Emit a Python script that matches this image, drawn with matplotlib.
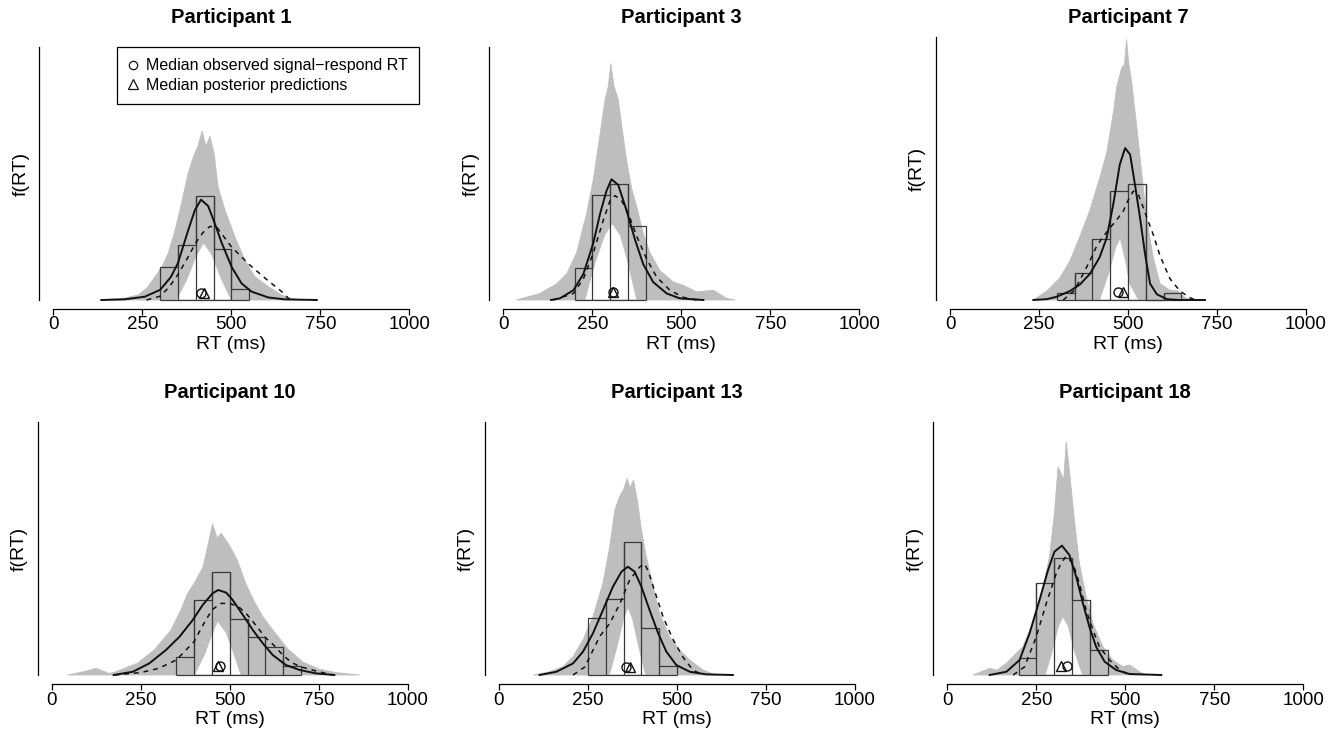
import numpy as np
import matplotlib
matplotlib.use("Agg")
import matplotlib.pyplot as plt
from matplotlib.lines import Line2D

plt.rcParams["font.family"] = ["Liberation Sans", "DejaVu Sans"]

# ---------------------------------------------------------------- data
participants = [1, 3, 7, 10, 13, 18]

# density axis extent (per second) for each participant
fRT_axis_top = [19.9, 15.49, 16.08, 15.46, 15.68, 15.55]

# observed signal-respond RT histograms (50 ms bins, density per second)
hist_left = [300, 200, 300, 350, 250, 200]
hist_heights = [
    [2.63, 4.34, 8.20, 3.99, 0.84],
    [1.94, 6.44, 7.09, 4.54],
    [0.41, 1.67, 3.76, 6.67, 7.08, 0.0, 0.41],
    [1.12, 4.59, 6.28, 3.43, 2.34, 1.69, 0.55],
    [3.52, 4.69, 8.27, 2.94, 0.58],
    [1.03, 5.64, 7.18, 4.62, 1.54],
]

# observed density (solid line)
obs_rt = [
    [135, 200, 257, 300, 330, 350, 379, 398, 415, 435, 450, 473, 501, 529, 557, 604, 650, 740],
    [134, 159, 197, 225, 253, 272, 290, 304, 323, 346, 370, 393, 421, 459, 496, 562],
    [234, 272, 300, 337, 365, 393, 420, 440, 459, 477, 492, 506, 520, 534, 548, 562, 581, 609, 646, 716],
    [174, 228, 274, 321, 359, 396, 424, 452, 468, 490, 508, 537, 565, 593, 621, 658, 696, 742, 794],
    [114, 161, 208, 236, 264, 292, 320, 344, 362, 381, 400, 423, 447, 470, 498, 536, 582, 657],
    [119, 166, 203, 231, 259, 283, 301, 322, 343, 362, 381, 399, 418, 442, 474, 512, 601],
]
obs_density = [
    [0, 0.05, 0.26, 0.8, 1.8, 2.9, 5.5, 7.1, 7.9, 7.4, 6.3, 4.5, 2.6, 1.3, 0.66, 0.2, 0.05, 0],
    [0, 0.1, 0.6, 1.6, 3.5, 5.3, 6.7, 7.4, 7.05, 5.5, 3.7, 2.2, 1.1, 0.4, 0.1, 0],
    [0, 0.05, 0.2, 0.55, 0.95, 1.6, 2.6, 3.8, 5.9, 8.3, 9.3, 8.9, 7.0, 5.0, 2.8, 1.0, 0.35, 0.05, 0, 0],
    [0, 0.2, 0.71, 1.53, 2.34, 3.36, 4.28, 5.0, 5.2, 5.04, 4.6, 3.67, 2.75, 1.94, 1.22, 0.61, 0.31, 0.1, 0],
    [0, 0.2, 0.72, 1.45, 2.59, 4.03, 5.48, 6.41, 6.72, 6.41, 5.48, 4.03, 2.59, 1.45, 0.62, 0.2, 0.04, 0],
    [0, 0.2, 0.92, 2.56, 4.61, 6.46, 7.59, 7.96, 7.38, 6.05, 4.41, 2.97, 1.74, 0.82, 0.31, 0.06, 0],
]

# median posterior predicted density (dashed line)
pred_rt = [
    [262, 300, 325, 350, 375, 400, 420, 440, 460, 500, 550, 600, 640, 665],
    [140, 197, 225, 253, 281, 300, 314, 332, 351, 375, 403, 431, 468, 506, 543],
    [318, 350, 374, 393, 412, 431, 449, 468, 487, 500, 515, 530, 543, 557, 571, 590, 618, 646, 674, 690],
    [176, 250, 300, 350, 400, 425, 450, 475, 500, 525, 550, 575, 600, 625, 650, 675, 700, 750, 790],
    [208, 241, 255, 283, 311, 339, 367, 395, 409, 420, 433, 461, 489, 517, 545, 573],
    [185, 217, 250, 278, 306, 320, 334, 353, 371, 390, 409, 427, 456, 484, 512],
]
pred_density = [
    [0, 0.3, 1.0, 2.0, 3.2, 4.5, 5.3, 5.8, 5.7, 4.2, 2.8, 1.6, 0.7, 0],
    [0, 0.4, 1.3, 2.9, 4.9, 6.1, 6.4, 6.1, 5.3, 3.9, 2.5, 1.4, 0.6, 0.16, 0],
    [0, 0.6, 1.6, 2.4, 3.3, 3.9, 4.4, 4.9, 5.45, 6.1, 6.67, 6.4, 5.65, 4.8, 4.0, 2.7, 1.3, 0.55, 0.14, 0],
    [0, 0.15, 0.4, 0.92, 2.04, 3.06, 3.98, 4.38, 4.38, 4.18, 3.67, 3.0, 2.3, 1.8, 1.2, 0.75, 0.5, 0.2, 0],
    [0, 0.5, 1.13, 2.4, 3.2, 4.4, 5.9, 6.7, 6.9, 6.4, 5.5, 3.6, 2.2, 1.1, 0.3, 0],
    [0, 0.5, 2.36, 4.4, 6.25, 6.9, 7.3, 6.87, 5.64, 4.0, 2.77, 1.74, 0.92, 0.31, 0],
]

# spread of the posterior predictive densities: highest curve ...
band_hi_rt = [
    [131, 200, 239, 265, 286, 305, 323, 342, 360, 379, 395, 405, 418, 429, 440, 452, 463, 482, 510, 538, 566, 604, 641, 669, 700],
    [37, 103, 150, 178, 206, 234, 253, 272, 286, 295, 302, 311, 323, 332, 346, 360, 375, 393, 412, 440, 478, 506, 543, 590, 627, 651],
    [234, 272, 309, 337, 365, 393, 421, 440, 459, 468, 482, 490, 496, 502, 510, 524, 538, 552, 571, 590, 618, 640, 660, 684],
    [45, 90, 125, 160, 174, 241, 288, 335, 363, 382, 400, 425, 440, 452, 465, 476, 500, 522, 545, 569, 592, 616, 663, 705, 750, 800, 865],
    [96, 142, 180, 208, 236, 264, 292, 311, 325, 339, 350, 360, 368, 378, 390, 400, 414, 433, 451, 479, 507, 536, 573, 601, 620],
    [72, 119, 140, 166, 212, 240, 268, 287, 301, 311, 320, 327, 334, 343, 357, 371, 390, 409, 437, 465, 493, 512, 540, 558],
]
band_hi = [
    [0, 0.15, 0.4, 1.0, 1.84, 2.6, 3.7, 5.5, 7.6, 10.0, 11.4, 12.0, 13.3, 12.1, 12.9, 11.5, 8.9, 7.1, 5.0, 3.15, 1.84, 1.05, 0.4, 0.13, 0],
    [0, 0.4, 1.0, 1.6, 2.9, 5.3, 7.4, 10.2, 12.3, 13.1, 14.5, 13.1, 12.3, 10.8, 8.6, 6.9, 5.7, 4.1, 2.9, 1.8, 1.1, 0.9, 0.5, 0.6, 0.1, 0],
    [0, 0.55, 1.37, 2.4, 3.9, 5.5, 7.5, 9.0, 11.5, 13.0, 14.2, 14.4, 15.95, 14.5, 13.4, 10.75, 7.9, 5.0, 2.6, 1.0, 0.6, 0.55, 0.15, 0],
    [0, 0.2, 0.41, 0.1, 0.15, 0.72, 1.53, 2.75, 3.98, 5.0, 5.6, 6.6, 8.05, 9.24, 8.36, 8.67, 7.9, 7.0, 5.6, 4.5, 3.6, 2.9, 1.6, 0.8, 0.37, 0.14, 0],
    [0, 0.2, 0.52, 1.14, 2.17, 3.62, 5.69, 7.96, 10.2, 11.1, 11.5, 12.2, 11.6, 12.1, 10.65, 9.0, 7.34, 5.48, 3.83, 2.38, 1.55, 0.93, 0.31, 0.06, 0],
    [0, 0.41, 0.3, 0.72, 1.74, 3.18, 5.23, 7.28, 9.95, 12.8, 12.4, 12.0, 14.36, 12.6, 9.54, 6.87, 4.82, 3.18, 1.74, 0.92, 0.51, 0.62, 0.2, 0],
]
# ... and lowest curve around the centre
band_lo_rt = [
    [345, 375, 400, 422, 445, 470, 500],
    [229, 257, 285, 306, 328, 351, 375],
    [420, 445, 465, 478, 492, 505, 530],
    [401, 430, 450, 466, 490, 510, 532],
    [310, 332, 350, 362, 375, 392, 412],
    [275, 295, 312, 325, 340, 357, 380],
]
band_lo = [
    [0, 1.6, 3.4, 4.5, 3.6, 1.8, 0],
    [0, 2.25, 4.0, 4.7, 4.0, 2.25, 0],
    [0, 1.6, 3.2, 3.8, 2.5, 1.0, 0],
    [0, 1.3, 2.5, 3.3, 2.6, 1.4, 0],
    [0, 1.8, 3.5, 4.2, 3.5, 1.8, 0],
    [0, 1.5, 3.0, 3.6, 3.0, 1.5, 0],
]

# medians (ms) and the height at which they are marked
median_observed = [416, 307, 473, 473, 356, 336]
median_predicted = [424, 308, 487, 466, 367, 320]
marker_level = [0.53, 0.51, 0.51, 0.55, 0.50, 0.55]

x_ticks = [0, 250, 500, 750, 1000]
BIN_MS = 50

# ---------------------------------------------------------------- layout (pixels)
W, H = 1339, 732
PX_PER_MS = 0.356
SPINE_X = [39.3, 489.3, 936.0, 37.7, 485.0, 933.3]
BASE_Y = [300, 300, 300, 675, 675, 675]
AXLINE_Y = [309, 309, 309, 684.3, 684.3, 684.3]
SPINE_TOP_Y = [47.3, 47.3, 37.3, 422.3, 422.3, 422.3]
TITLE_Y = [23.3, 23.3, 23.0, 398.3, 398.3, 398.3]
XLABEL_TOP_Y = [335.5, 335.5, 335.5, 710.8, 710.8, 710.8]

GREY = "#bebebe"
INK = "#111111"
HIST_INK = "#3a3a3a"

fig = plt.figure(figsize=(W / 100, H / 100), dpi=100)

for i, pid in enumerate(participants):
    sx, base, axl, stop = SPINE_X[i], BASE_Y[i], AXLINE_Y[i], SPINE_TOP_Y[i]
    x0 = sx + 14
    k = fRT_axis_top[i] / (base - stop)          # density units per pixel
    top_px = axl - 295
    right_px = x0 + 1045 * PX_PER_MS
    ax = fig.add_axes([sx / W, 1 - axl / H, (right_px - sx) / W, (axl - top_px) / H])
    ax.patch.set_alpha(0)
    ax.set_xlim(-14 / PX_PER_MS, 1045)
    ax.set_ylim(-(axl - base) * k, (base - top_px) * k)

    # posterior predictive spread: area under the highest curve,
    # cleared below the lowest curve
    ax.fill(band_hi_rt[i], band_hi[i], facecolor=GREY, edgecolor=GREY,
            lw=0.6, zorder=1.0)
    ax.fill(band_lo_rt[i], band_lo[i], facecolor="white", edgecolor=GREY,
            lw=0.6, zorder=1.1)

    # histogram of observed RTs (outlined bars)
    heights = np.asarray(hist_heights[i], float)
    edges = hist_left[i] + BIN_MS * np.arange(len(heights) + 1)
    ax.stairs(heights, edges, baseline=0, fill=False, color=HIST_INK,
              lw=0.9, zorder=2)
    inner_tops = np.maximum(heights[:-1], heights[1:])
    ax.vlines(edges[1:-1], 0, inner_tops, color=HIST_INK, lw=0.9, zorder=2)
    ax.hlines(0, edges[0], edges[-1], color=HIST_INK, lw=0.9, zorder=2)

    # observed and predicted densities
    ax.plot(obs_rt[i], obs_density[i], color=INK, lw=1.4, zorder=3)
    ax.plot(pred_rt[i], pred_density[i], color=INK, lw=1.1,
            linestyle=(0, (3.2, 3.2)), zorder=3)

    # medians
    ax.plot([median_observed[i]], [marker_level[i]], marker="o", ms=6.5,
            mfc="none", mec=INK, mew=1.0, ls="none", zorder=4)
    ax.plot([median_predicted[i]], [marker_level[i]], marker="^", ms=7,
            mfc="none", mec=INK, mew=1.0, ls="none", zorder=4)

    # axes in the style of base graphics
    for side in ("top", "right"):
        ax.spines[side].set_visible(False)
    ax.spines["left"].set_bounds(0, fRT_axis_top[i])
    ax.spines["left"].set_linewidth(0.9)
    ax.spines["bottom"].set_bounds(0, 1000)
    ax.spines["bottom"].set_linewidth(0.9)
    ax.set_yticks([])
    ax.set_xticks(x_ticks)
    ax.set_xticklabels([str(t) for t in x_ticks])
    ax.tick_params(axis="x", direction="out", length=4.0, width=0.9,
                   pad=1.2, labelsize=13.5, colors="black")

    h_ax = axl - top_px
    w_ax = right_px - sx
    ax.set_title(f"Participant {pid}", fontsize=14.5, fontweight="bold",
                 y=(axl - TITLE_Y[i]) / h_ax, pad=0, va="baseline",
                 x=(x0 + 500 * PX_PER_MS - sx) / w_ax)
    ax.set_xlabel("RT (ms)", fontsize=14)
    ax.xaxis.set_label_coords((x0 + 500 * PX_PER_MS - sx) / w_ax,
                              -(XLABEL_TOP_Y[i] - axl) / h_ax)
    ax.set_ylabel("f(RT)", fontsize=14)
    ax.yaxis.set_label_coords(-10 / w_ax, (axl - (stop + base) / 2) / h_ax)

    if i == 0:
        handles = [
            Line2D([], [], marker="o", ms=6, mfc="none", mec=INK, mew=0.9, ls="none"),
            Line2D([], [], marker="^", ms=6.5, mfc="none", mec=INK, mew=0.9, ls="none"),
        ]
        leg = ax.legend(handles, ["Median observed signal\u2212respond RT",
                                  "Median posterior predictions"],
                        loc="upper left",
                        bbox_to_anchor=(117.3 / W, 1 - 47.3 / H),
                        bbox_transform=fig.transFigure,
                        fontsize=11.5, frameon=True, fancybox=False,
                        edgecolor="black", framealpha=1, borderpad=0.68,
                        handlelength=0.6, handletextpad=0.54,
                        labelspacing=0.3, borderaxespad=0)
        leg.get_frame().set_linewidth(0.9)

fig.savefig("out.png", dpi=100)
